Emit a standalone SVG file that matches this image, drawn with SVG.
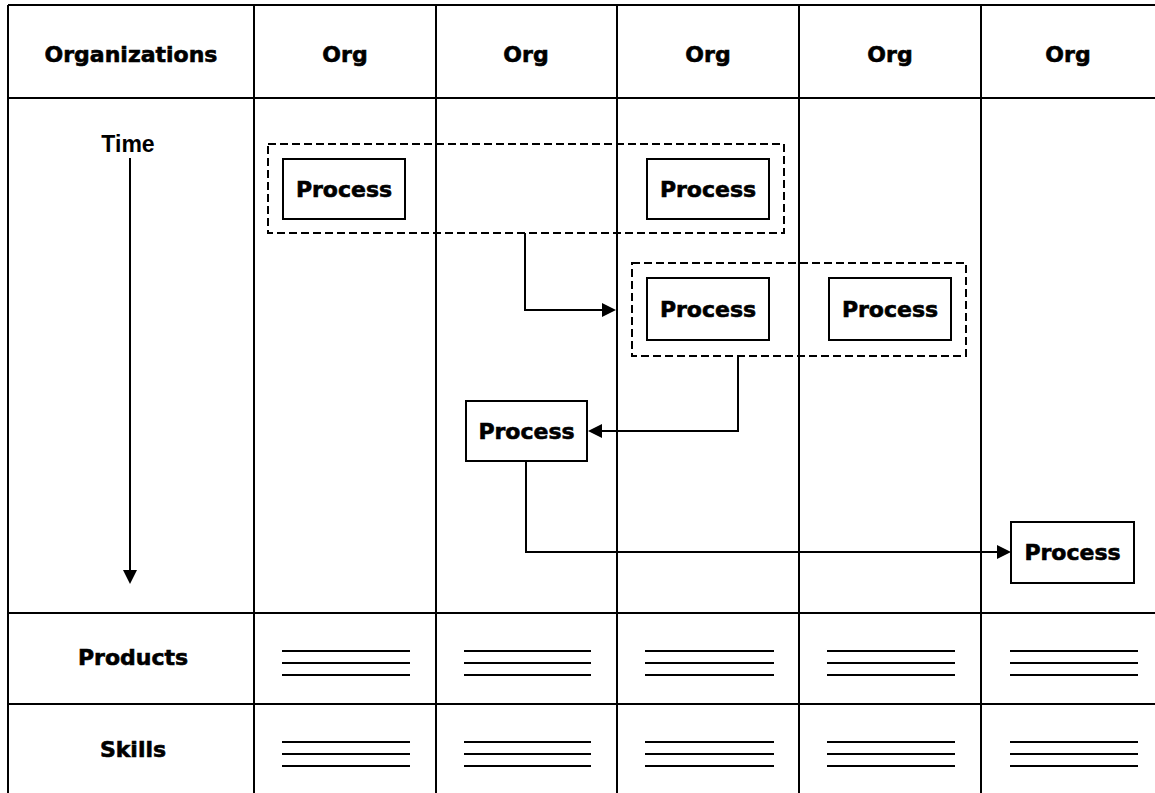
<svg xmlns="http://www.w3.org/2000/svg" width="1155" height="793" viewBox="0 0 1155 793">
  <style>
    .grid { stroke: #000; stroke-width: 2; fill: none; }
    .rule { stroke: #000; stroke-width: 2; fill: none; }
    .box { fill: #fff; stroke: #000; stroke-width: 2; }
    .group { fill: none; stroke: #000; stroke-width: 2; stroke-dasharray: 8 4; }
    .conn { fill: none; stroke: #000; stroke-width: 2; }
    .lbl { font-family: "DejaVu Sans", "Liberation Sans", sans-serif; font-weight: bold; font-size: 22px; text-anchor: middle; fill: #000; stroke: #000; stroke-width: 0.6; }
    .time { font-family: "Liberation Sans", Arial, sans-serif; font-weight: bold; font-size: 23px; text-anchor: middle; fill: #000; }
  </style>
  <defs>
    <marker id="arrow" viewBox="0 0 14 14" refX="10" refY="7" markerWidth="14" markerHeight="14" markerUnits="userSpaceOnUse" orient="auto">
      <path d="M0,0 L14,7 L0,14 z" fill="#000"/>
    </marker>
  </defs>

  <rect width="1155" height="793" fill="#fff"/>

  <!-- table grid -->
  <g id="grid" class="grid">
    <line x1="8" y1="5" x2="1155" y2="5"/>
    <line x1="8" y1="98" x2="1155" y2="98"/>
    <line x1="8" y1="613" x2="1155" y2="613"/>
    <line x1="8" y1="704" x2="1155" y2="704"/>
    <line x1="8" y1="5" x2="8" y2="793"/>
    <line x1="254" y1="5" x2="254" y2="793"/>
    <line x1="436" y1="5" x2="436" y2="793"/>
    <line x1="617" y1="5" x2="617" y2="793"/>
    <line x1="799" y1="5" x2="799" y2="793"/>
    <line x1="981" y1="5" x2="981" y2="793"/>
  </g>

  <!-- header row -->
  <g id="header">
    <text class="lbl" x="131" y="62">Organizations</text>
    <text class="lbl" x="345" y="62">Org</text>
    <text class="lbl" x="526" y="62">Org</text>
    <text class="lbl" x="708" y="62">Org</text>
    <text class="lbl" x="890" y="62">Org</text>
    <text class="lbl" x="1068" y="62">Org</text>
  </g>

  <!-- time axis -->
  <g id="time-axis">
    <text class="time" x="128" y="152">Time</text>
    <line class="conn" x1="130" y1="158" x2="130" y2="580" marker-end="url(#arrow)"/>
  </g>

  <!-- process groupings -->
  <g id="group-1"><rect class="group" x="268" y="144" width="516" height="89"/></g>
  <g id="group-2"><rect class="group" x="632" y="263" width="334" height="93"/></g>

  <!-- process nodes -->
  <g id="process-1"><rect class="box" x="283" y="159" width="122" height="60"/><text class="lbl" x="344" y="197">Process</text></g>
  <g id="process-2"><rect class="box" x="647" y="159" width="122" height="60"/><text class="lbl" x="708" y="197">Process</text></g>
  <g id="process-3"><rect class="box" x="647" y="278" width="122" height="62"/><text class="lbl" x="708" y="317">Process</text></g>
  <g id="process-4"><rect class="box" x="829" y="278" width="122" height="62"/><text class="lbl" x="890" y="317">Process</text></g>
  <g id="process-5"><rect class="box" x="466" y="401" width="121" height="60"/><text class="lbl" x="526.5" y="439">Process</text></g>
  <g id="process-6"><rect class="box" x="1011" y="522" width="123" height="61"/><text class="lbl" x="1072.5" y="560">Process</text></g>

  <!-- connectors -->
  <g id="connectors">
    <path class="conn" d="M525,233 V310 H612" marker-end="url(#arrow)"/>
    <path class="conn" d="M738,356 V431 H592" marker-end="url(#arrow)"/>
    <path class="conn" d="M526,461 V552 H1007" marker-end="url(#arrow)"/>
  </g>

  <!-- products row -->
  <g id="products">
    <text class="lbl" x="133" y="665">Products</text>
    <g class="rule">
      <path d="M282,651 H410 M282,663 H410 M282,675 H410"/>
      <path d="M464,651 H591 M464,663 H591 M464,675 H591"/>
      <path d="M645,651 H774 M645,663 H774 M645,675 H774"/>
      <path d="M827,651 H955 M827,663 H955 M827,675 H955"/>
      <path d="M1010,651 H1138 M1010,663 H1138 M1010,675 H1138"/>
    </g>
  </g>

  <!-- skills row -->
  <g id="skills">
    <text class="lbl" x="133" y="757">Skills</text>
    <g class="rule">
      <path d="M282,742 H410 M282,754 H410 M282,766 H410"/>
      <path d="M464,742 H591 M464,754 H591 M464,766 H591"/>
      <path d="M645,742 H774 M645,754 H774 M645,766 H774"/>
      <path d="M827,742 H955 M827,754 H955 M827,766 H955"/>
      <path d="M1010,742 H1138 M1010,754 H1138 M1010,766 H1138"/>
    </g>
  </g>
</svg>
